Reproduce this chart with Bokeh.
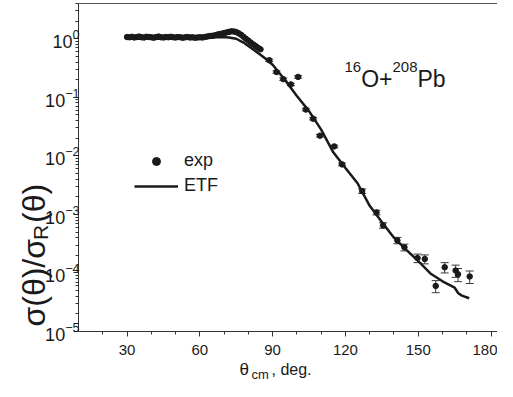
from math import pi
from bokeh.plotting import figure
from bokeh.models import FixedTicker, LogTickFormatter, Label, Legend, LegendItem, LinearAxis
from bokeh.embed import file_html
from bokeh.resources import INLINE

# ---------------- data ----------------
# dense experimental angular distribution (forward angles)
exp_dense_theta = [30, 31, 32, 33, 34, 35, 36, 37, 38, 39, 40, 41, 42, 43, 44, 45, 46, 47, 48, 49,
                   50, 51, 52, 53, 54, 55, 56, 57, 58, 59, 60, 61, 62, 63, 64, 65, 66, 67, 68, 69,
                   70, 71, 72, 73, 74, 75, 76, 77, 78, 79, 80, 81, 82, 83, 84, 85]
exp_dense_val = [1.07, 1.06, 1.08, 1.05, 1.07, 1.09, 1.06, 1.05, 1.08, 1.07, 1.06, 1.04, 1.07, 1.09,
                 1.06, 1.05, 1.07, 1.06, 1.08, 1.06, 1.05, 1.07, 1.06, 1.04, 1.06, 1.07, 1.05, 1.06,
                 1.04, 1.05, 1.06, 1.05, 1.07, 1.09, 1.11, 1.12, 1.14, 1.17, 1.20, 1.22, 1.25, 1.28,
                 1.31, 1.34, 1.33, 1.30, 1.24, 1.17, 1.08, 1.00, 0.93, 0.86, 0.80, 0.75, 0.70, 0.66]

# backward-angle experimental points with error bars
exp_theta = [88.6, 91.6, 94.4, 97.5, 100.5, 103.7, 106.7, 109.5, 115.4, 118.6, 126.9, 132.8,
             135.5, 141.4, 144.3, 149.7, 152.7, 157.2, 160.9, 165.4, 166.4, 171.2]
exp_val = [0.43, 0.27, 0.204, 0.166, 0.223, 0.0618, 0.043, 0.0221, 0.0145, 0.00715, 0.0025, 1.08e-3,
           6.5e-4, 3.6e-4, 2.74e-4, 1.8e-4, 1.73e-4, 6.0e-5, 1.25e-4, 1.1e-4, 9.5e-5, 8.7e-5]
exp_err = [0.02, 0.013, 0.01, 0.008, 0.011, 0.003, 0.002, 0.0011, 0.0007, 0.00036, 0.00022, 1.0e-4,
           7e-5, 4.5e-5, 3.6e-5, 3.0e-5, 3.0e-5, 1.4e-5, 2.5e-5, 2.6e-5, 2.4e-5, 2.1e-5]

# ETF calculation
etf_theta = [30, 40, 50, 55, 60, 63, 66, 69, 72, 75, 78, 81, 84, 87, 90, 95, 100, 105, 110, 115,
             120, 125, 130, 135, 140, 145, 150, 155, 160, 165, 166.5, 168, 171]
etf_val = [1.0, 1.0, 1.0, 1.01, 1.02, 1.04, 1.06, 1.07, 1.05, 1.00, 0.86, 0.70, 0.57, 0.46, 0.36,
           0.20, 0.105, 0.058, 0.028, 0.0115, 0.0062, 0.0034, 0.0014, 7.4e-4, 4.0e-4, 2.5e-4,
           1.6e-4, 9.8e-5, 7.2e-5, 5.6e-5, 4.5e-5, 4.1e-5, 3.7e-5]

x_major = [30, 60, 90, 120, 150, 180]
x_minor = [20, 40, 50, 70, 80, 100, 110, 130, 140, 160, 170]
y_major = [1e-5, 1e-4, 1e-3, 1e-2, 1e-1, 1e0]
y_minor = [m * 10.0 ** e for e in range(-5, 1) for m in range(2, 10)] + [2.0, 3.0]

X_AXIS_START, X_VIEW_END = 10, 182.66
Y_AXIS_START, Y_AXIS_END = 1e-5, 4.0

FONT = "Liberation Sans"
INK = "#1a1a1a"
AXC = "#333333"

# ---------------- figure ----------------
# the frame covers the whole canvas; axes are pinned at the data origin
W, H = 497, 381
p = figure(width=W, height=H, y_axis_type="log", x_range=(-22.14, X_VIEW_END),
           y_range=(1.40e-6, 4.50), output_backend="svg", toolbar_location=None,
           min_border=0, min_border_left=0, min_border_right=0, min_border_top=0,
           min_border_bottom=0)
p.xgrid.visible = False
p.ygrid.visible = False
p.outline_line_color = None
p.background_fill_color = "white"
p.border_fill_color = "white"

xa = p.xaxis[0]
ya = p.yaxis[0]
xa.fixed_location = Y_AXIS_START
xa.bounds = (X_AXIS_START, X_VIEW_END)
ya.fixed_location = X_AXIS_START
ya.bounds = (Y_AXIS_START, Y_AXIS_END)

for ax in (xa, ya):
    ax.axis_line_color = AXC
    ax.major_tick_line_color = AXC
    ax.minor_tick_line_color = AXC
    ax.major_tick_in = 0
    ax.major_tick_out = 5
    ax.minor_tick_in = 0
    ax.minor_tick_out = 3
    ax.major_label_text_font = FONT
    ax.major_label_text_color = INK

xa.ticker = FixedTicker(ticks=x_major, minor_ticks=x_minor)
xa.major_label_text_font_size = "15px"
xa.major_label_standoff = 8
ya.ticker = FixedTicker(ticks=y_major, minor_ticks=y_minor)
ya.formatter = LogTickFormatter()
ya.major_label_text_font_size = "18px"
ya.major_label_standoff = -6

top = LinearAxis(fixed_location=Y_AXIS_END, bounds=(X_AXIS_START, X_VIEW_END),
                 ticker=FixedTicker(ticks=[]), axis_line_color="#555555",
                 major_tick_line_color=None, minor_tick_line_color=None,
                 major_label_text_font_size="0px")
p.add_layout(top, "above")

# error bars
lo = [v - e for v, e in zip(exp_val, exp_err)]
hi = [v + e for v, e in zip(exp_val, exp_err)]
p.segment(x0=exp_theta, y0=lo, x1=exp_theta, y1=hi, line_color="#3a3a3a", line_width=1)
p.scatter(x=exp_theta + exp_theta, y=lo + hi, marker="dash", size=8, line_color="#3a3a3a",
          line_width=1)

r_line = p.line(etf_theta, etf_val, line_width=2.5, line_color=INK)
r_exp = p.scatter(exp_dense_theta + exp_theta, exp_dense_val + exp_val, size=5.5,
                  fill_color=INK, line_color=INK)

legend = Legend(items=[LegendItem(label="exp", renderers=[r_exp]),
                       LegendItem(label="ETF", renderers=[r_line])],
                location=(134, 185), glyph_width=44, glyph_height=20, label_height=20,
                label_text_font=FONT, label_text_font_size="18px", label_text_color=INK,
                spacing=4, padding=0, margin=0, border_line_color=None,
                background_fill_alpha=0, label_standoff=6)
p.add_layout(legend)


def lab(text, cx, cy, size, angle=0.0):
    """cx, cy: canvas pixel position (origin top-left) of the text baseline start."""
    p.add_layout(Label(x=cx, y=H - cy, x_units="screen", y_units="screen", text=text,
                       text_font=FONT, text_font_size=f"{size}px", text_color=INK,
                       text_align="left", text_baseline="alphabetic", angle=angle))


# reaction label 16O+208Pb
lab("16", 344, 66, 15)
lab("O+", 360.7, 78.5, 23)
lab("208", 392, 66, 15)
lab("Pb", 417, 78.5, 23)

# x-axis title: theta_cm, deg.
lab("\u03b8", 239, 369, 17)
lab("cm", 251, 374, 13)
lab(", deg.", 271, 369, 16)

# y-axis title: sigma(theta)/sigma_R(theta), rotated
y0 = 326
lab("\u03c3(\u03b8)/\u03c3", 33, y0, 32, pi / 2)
lab("R", 39.5, y0 - 86.6, 21, pi / 2)
lab("(\u03b8)", 33, y0 - 103.5, 32, pi / 2)

open("out.html", "w").write(file_html(p, INLINE))
